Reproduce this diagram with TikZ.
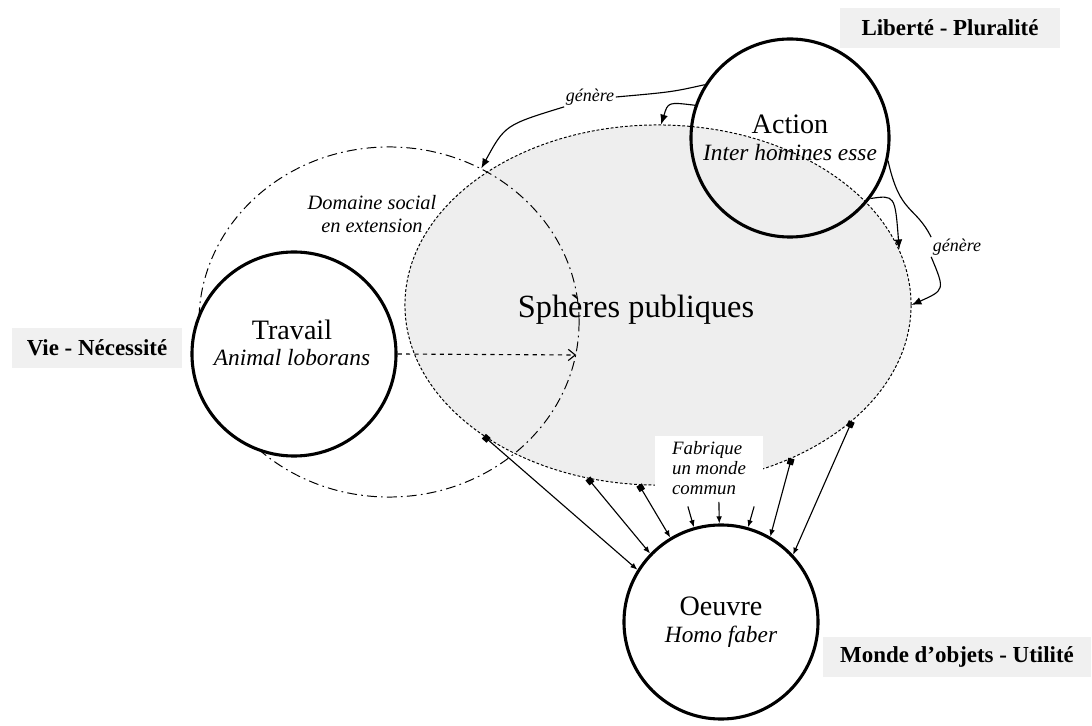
\documentclass[tikz,border=0pt]{standalone}
\usepackage{fontspec}
\setmainfont{Liberation Serif}
\usetikzlibrary{shapes.geometric,arrows.meta,calc}

\tikzstyle{sphere}=[ellipse,draw,fill=black!6.5,dash pattern=on 2pt off 1.4pt,line width=0.7pt,inner sep=0pt,minimum width=12.65cm,minimum height=9cm]
\tikzstyle{social}=[ellipse,draw,dash pattern=on 7pt off 3pt on 1.2pt off 3pt,line width=0.7pt,inner sep=0pt,minimum width=9.5cm,minimum height=8.75cm]
\tikzstyle{activity}=[circle,draw,line width=2.2pt,inner sep=0pt,minimum size=4.95cm,align=center,font=\fontsize{20}{19}\selectfont]
\tikzstyle{tag}=[fill=black!6,inner sep=0pt,minimum height=1cm,font=\bfseries\fontsize{16.3}{18}\selectfont]
\tikzstyle{note}=[font=\itshape\fontsize{12.8}{14}\selectfont,inner sep=1pt]
\tikzstyle{link}=[line width=0.8pt,{Square[length=4.5pt,width=4.5pt]}-{Latex[length=5pt,width=4pt]}]
\tikzstyle{genere}=[line width=0.8pt,-{Latex[length=7pt,width=5.5pt]}]

\newcommand{\activitysub}[1]{{\itshape\fontsize{16.6}{18}\selectfont #1}}

\begin{document}
\begin{tikzpicture}[x=0.025cm,y=0.025cm]
\useasboundingbox (0,0) rectangle (1092,725);
% spheres
\node[sphere] (spheres) at (658,420) {};
\node[social] (social) at (389,403) {};
\node[font=\fontsize{23}{26}\selectfont] (publiques) at (636,415) {Sphères publiques};
\node[note,font=\itshape\fontsize{14.5}{17}\selectfont,align=center] (domaine) at (372,511) {Domaine social\\en extension};

% activities
\node[activity,fill=white,minimum size=5.1cm] (travail) at (294,371) {};
\node[align=center,font=\fontsize{20}{19}\selectfont] (travailtext) at (292,382) {Travail\\\activitysub{Animal loborans}};
\node[activity] (action) at (790,587) {Action\\\activitysub{Inter homines esse}};
\node[activity,fill=white,minimum size=4.85cm] (oeuvre) at (721,103) {Oeuvre\\\activitysub{Homo faber}};

\node[tag,minimum width=5.5cm] (liberte) at (950,697) {Liberté - Pluralité};
\node[tag,minimum width=4.25cm] (vie) at (97,377) {Vie - Nécessité};
\node[tag,minimum width=6.68cm] (monde) at (957,68) {Monde d’objets - Utilité};

\draw[line width=0.8pt,dashed,-{Straight Barb[length=5pt,width=8pt]}] (travail.east) -- (social.350);

% génère
\node[note] (genere1) at (590,628) {génère};
\draw[line width=0.8pt] (genere1.east) .. controls (672,633) .. (action.148);
\draw[genere] (action.161) .. controls (668,623) .. (spheres.89);
\draw[genere] (genere1.south west) .. controls (505,600) .. (social.59);

\node[note] (genere2) at (957,478) {génère};
\draw[line width=0.8pt] (action.347) .. controls (900,510) and (915,520) .. (genere2.north west);
\draw[genere] (action.323) .. controls (895,530) .. (spheres.13);
\draw[genere] (genere2.south west) .. controls (945,435) .. (spheres.0);

% fabrique un monde commun
\node[fill=white,align=left,minimum width=2.7cm,minimum height=1.6cm,font=\itshape\fontsize{13.4}{14.2}\selectfont] (fabrique) at (709,257) {Fabrique\\un monde\\commun};
\draw[link] (spheres.217) -- (oeuvre.148);
\draw[link] (spheres.248) -- (oeuvre.136);
\draw[link] (spheres.264) -- (oeuvre.121);
\draw[link] (spheres.311) -- (oeuvre.60);
\draw[link] (spheres.329) -- (oeuvre.43);
\foreach \a in {106,91,74} {
  \coordinate (tick\a) at ($(oeuvre.center)!1.22!(oeuvre.\a)$);
  \draw[line width=0.8pt,-{Latex[length=5pt,width=4pt]}] (tick\a) -- (oeuvre.\a);
}
\end{tikzpicture}
\end{document}
